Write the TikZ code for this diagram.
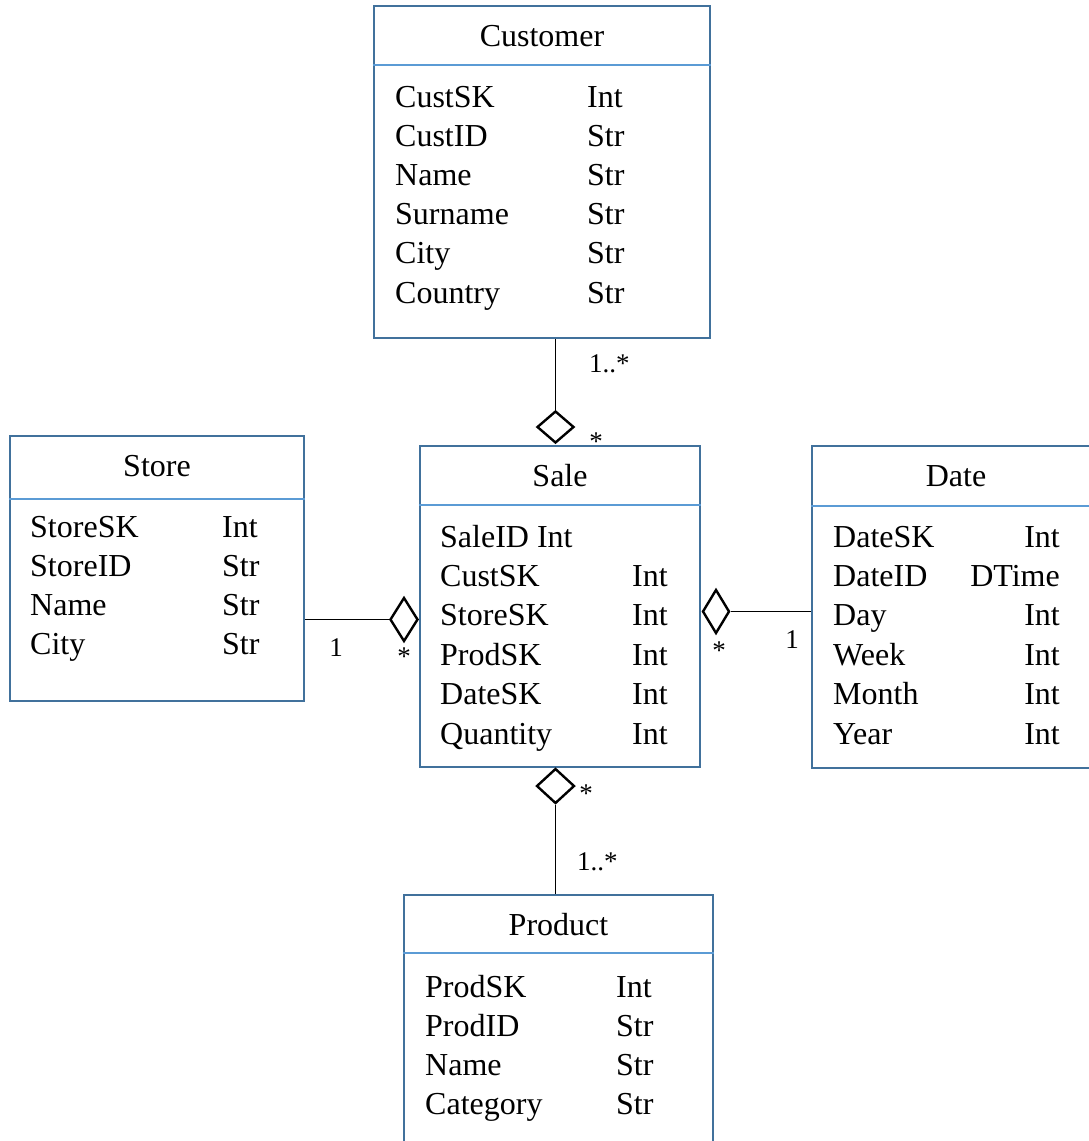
\documentclass[tikz,border=0pt]{standalone}
\usepackage{fontspec}
\setmainfont{Liberation Serif}
\usetikzlibrary{shapes.geometric}
\definecolor{boxblue}{HTML}{41719C}
\definecolor{divblue}{HTML}{5B9BD5}
\begin{document}
\begin{tikzpicture}[x=1pt,y=-1pt,
  cls/.style={draw=boxblue, line width=2.8pt, inner sep=0, rectangle},
  divline/.style={draw=divblue, line width=2.2pt},
  ttl/.style={anchor=base, inner sep=0, font=\fontsize{32}{38}\selectfont},
  attr/.style={anchor=base west, inner sep=0, font=\fontsize{32}{38}\selectfont},
  attre/.style={anchor=base east, inner sep=0, font=\fontsize{32}{38}\selectfont},
  dia/.style={draw=black, line width=2.4pt, shape=diamond, inner sep=0},
  conn/.style={draw=black, line width=1.4pt},
  mult/.style={anchor=base west, inner sep=0, font=\fontsize{27}{31}\selectfont},
  multc/.style={anchor=base, inner sep=0, font=\fontsize{27}{31}\selectfont}]
\clip (0,0) rectangle (1089,1141);
\fill[white] (0,0) rectangle (1089,1141);

% Customer
\node[cls, minimum width=336pt, minimum height=332pt] (cust) at (542,172) {};
\draw[divline] ([yshift=-60pt]cust.north west) -- ([yshift=-60pt]cust.north east);
\node[ttl] (custT) at (542,46) {Customer};
\foreach \n/\t [count=\i] in {CustSK/Int,CustID/Str,Name/Str,Surname/Str,City/Str,Country/Str}{
  \node[attr] (custA\i) at (395,{107+39.2*(\i-1)}) {\n};
  \node[attr] (custB\i) at (587,{107+39.2*(\i-1)}) {\t};
}

% Store
\node[cls, minimum width=294pt, minimum height=265pt] (store) at (157,568.5) {};
\draw[divline] ([yshift=-64pt]store.north west) -- ([yshift=-64pt]store.north east);
\node[ttl] (storeT) at (157,476) {Store};
\foreach \n/\t [count=\i] in {StoreSK/Int,StoreID/Str,Name/Str,City/Str}{
  \node[attr] (storeA\i) at (30,{537+39.3*(\i-1)}) {\n};
  \node[attr] (storeB\i) at (222,{537+39.3*(\i-1)}) {\t};
}

% Sale
\node[cls, minimum width=280pt, minimum height=321pt] (sale) at (560,606.5) {};
\draw[divline] ([yshift=-60pt]sale.north west) -- ([yshift=-60pt]sale.north east);
\node[ttl] (saleT) at (560,486) {Sale};
\node[attr] (saleA0) at (440,547) {SaleID Int};
\foreach \n/\t [count=\i] in {CustSK/Int,StoreSK/Int,ProdSK/Int,DateSK/Int,Quantity/Int}{
  \node[attr] (saleA\i) at (440,{547+39.4*\i}) {\n};
  \node[attr] (saleB\i) at (632,{547+39.4*\i}) {\t};
}

% Date
\node[cls, minimum width=288pt, minimum height=322pt] (date) at (956,607) {};
\draw[divline] ([yshift=-61pt]date.north west) -- ([yshift=-61pt]date.north east);
\node[ttl] (dateT) at (956,486) {Date};
\foreach \n/\t [count=\i] in {DateSK/Int,DateID/DTime,Day/Int,Week/Int,Month/Int,Year/Int}{
  \node[attr] (dateA\i) at (833,{547+39.4*(\i-1)}) {\n};
  \node[attre] (dateB\i) at (1060,{547+39.4*(\i-1)}) {\t};
}

% Product
\node[cls, minimum width=309pt, minimum height=265pt] (prod) at (558.5,1027.5) {};
\draw[divline] ([yshift=-59pt]prod.north west) -- ([yshift=-59pt]prod.north east);
\node[ttl] (prodT) at (558.5,935) {Product};
\foreach \n/\t [count=\i] in {ProdSK/Int,ProdID/Str,Name/Str,Category/Str}{
  \node[attr] (prodA\i) at (425,{997+39*(\i-1)}) {\n};
  \node[attr] (prodB\i) at (616,{997+39*(\i-1)}) {\t};
}

% Aggregation diamonds and connectors
\node[dia, minimum width=37pt, minimum height=32pt] (dC) at (555.5,427) {};
\draw[conn] (dC.north) -- (dC.north |- cust.south);
\node[dia, minimum width=28pt, minimum height=44pt] (dS) at (404,619.5) {};
\draw[conn] (dS.west) -- (dS.west -| store.east);
\node[dia, minimum width=27pt, minimum height=44pt] (dD) at (716,611.5) {};
\draw[conn] (dD.east) -- (dD.east -| date.west);
\node[dia, minimum width=38pt, minimum height=35pt] (dP) at (555.5,786) {};
\draw[conn] (dP.south) -- (dP.south |- prod.north);

% Multiplicities
\node[mult] (mC1) at (589,372) {1..*};
\node[multc] (mC2) at (596,450) {*};
\node[multc] (mS1) at (336,656) {1};
\node[multc] (mS2) at (404,665) {*};
\node[multc] (mD2) at (719,659) {*};
\node[multc] (mD1) at (792,648) {1};
\node[multc] (mP2) at (586,802) {*};
\node[mult] (mP1) at (577,870) {1..*};
\end{tikzpicture}
\end{document}
